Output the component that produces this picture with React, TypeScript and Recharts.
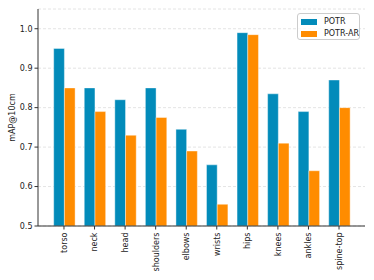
import { Bar, BarChart, CartesianGrid, XAxis, YAxis } from 'recharts';

const joints = ['torso', 'neck', 'head', 'shoulders', 'elbows', 'wrists', 'hips', 'knees', 'ankles', 'spine-top'];
const potr = [0.95, 0.85, 0.82, 0.85, 0.745, 0.655, 0.99, 0.835, 0.79, 0.87];
const potrAr = [0.85, 0.79, 0.73, 0.775, 0.69, 0.555, 0.985, 0.71, 0.64, 0.8];
const yTicks = [0.5, 0.6, 0.7, 0.8, 0.9, 1.0];
const seriesNames = ['POTR', 'POTR-AR'];

const data = joints.map((name, i) => ({ name, potr: potr[i], potrAr: potrAr[i] }));

const BLUE = '#028bba';
const ORANGE = '#ff8c00';
const FONT = 'DejaVu Sans, sans-serif';
const FS = 8;

const RotatedTick = (props: any) => {
  const { x, y, payload } = props;
  return (
    <g transform={`translate(${x},${y + 1}) rotate(-90)`}>
      <text x={0} y={0} dy={2.9} textAnchor="end" fontSize={FS} fontFamily={FONT} fill="#222">
        {payload.value}
      </text>
    </g>
  );
};

export default function App() {
  return (
    <div style={{ position: 'absolute', left: 0, top: 0, width: 374, height: 280, background: '#fff' }}>
      <BarChart
        width={374}
        height={280}
        data={data}
        margin={{ top: 9, right: 9, bottom: 0, left: 0 }}
        barGap={0}
        barSize={10.7}
      >
        <CartesianGrid vertical={false} stroke="#ddd" strokeDasharray="3 2" strokeWidth={0.8} />
        <XAxis
          dataKey="name"
          interval={0}
          height={54}
          padding={{ left: 10.7, right: 10.7 }}
          tick={<RotatedTick />}
          tickSize={3.5}
          stroke="#333"
          tickLine={{ stroke: '#333' }}
        />
        <XAxis xAxisId="top" dataKey="name" orientation="top" height={0} tick={false} tickLine={false} stroke="#333" />
        <YAxis
          domain={[0.5, 1.05]}
          ticks={yTicks}
          allowDataOverflow
          width={38}
          tickSize={3.5}
          tickFormatter={(v: number) => v.toFixed(1)}
          tick={{ fontSize: FS, fontFamily: FONT, fill: '#222' }}
          stroke="#333"
          label={{
            value: 'mAP@10cm',
            angle: -90,
            position: 'insideLeft',
            offset: 12,
            style: { fontSize: FS, fontFamily: FONT, fill: '#222', textAnchor: 'middle' },
          }}
        />
        <YAxis yAxisId="right" orientation="right" width={0} tick={false} tickLine={false} stroke="#333" />
        <Bar dataKey="potr" name={seriesNames[0]} fill={BLUE} stroke="#ffffff" strokeOpacity={0.5} strokeWidth={0.8} isAnimationActive={false} />
        <Bar dataKey="potrAr" name={seriesNames[1]} fill={ORANGE} stroke="#ffffff" strokeOpacity={0.5} strokeWidth={0.8} isAnimationActive={false} />
      </BarChart>
      <div
        style={{
          position: 'absolute',
          left: 297,
          top: 13,
          width: 63,
          height: 27,
          boxSizing: 'border-box',
          border: '1px solid #ccc',
          borderRadius: 3,
          background: 'rgba(255,255,255,0.8)',
          padding: '2px 0 0 3px',
          fontFamily: FONT,
          fontSize: FS,
          color: '#222',
          lineHeight: '12px',
        }}
      >
        {seriesNames.map((label, i) => (
          <div key={label} style={{ display: 'flex', alignItems: 'center' }}>
            <span style={{ width: 16, height: 5.5, background: i === 0 ? BLUE : ORANGE, marginRight: 7, display: 'inline-block' }} />
            {label}
          </div>
        ))}
      </div>
    </div>
  );
}
